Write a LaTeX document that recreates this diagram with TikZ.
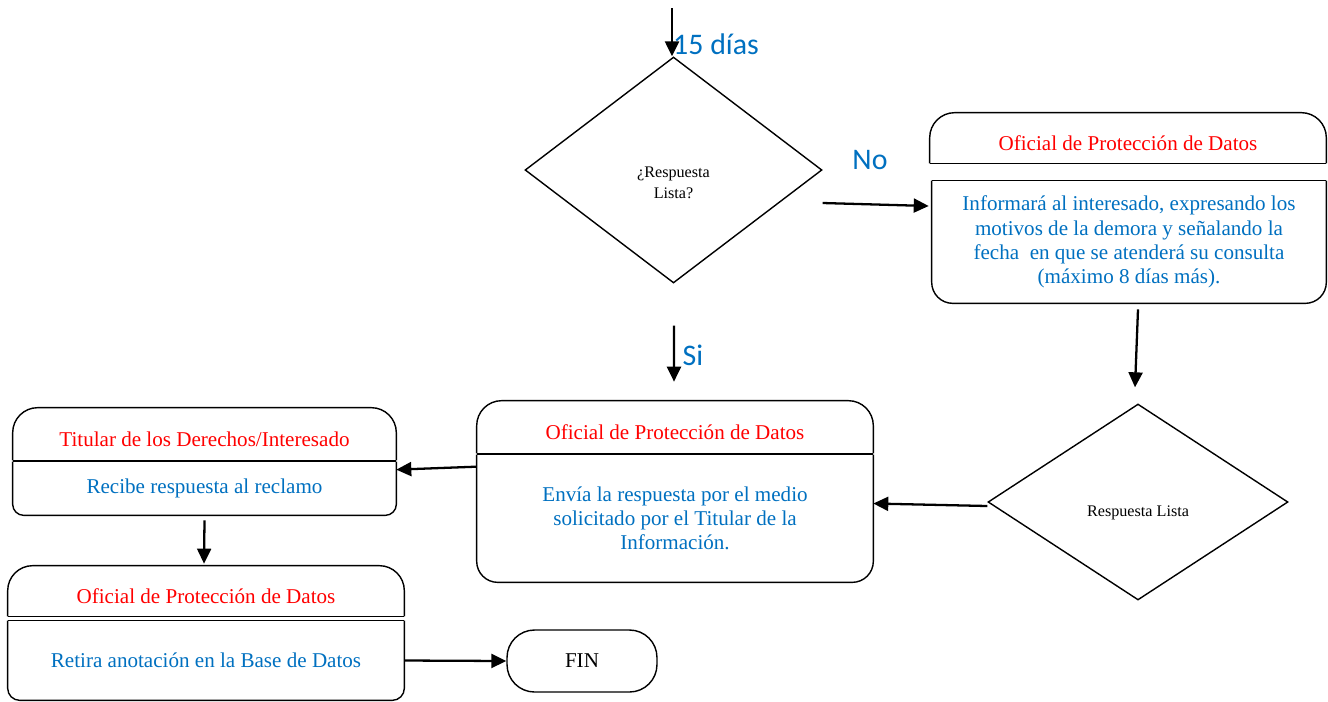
\documentclass[tikz,border=0pt]{standalone}
\usepackage{fontspec}
\setmainfont{Liberation Serif}
\newfontfamily\calibfont{Carlito}
\usetikzlibrary{shapes.geometric,arrows.meta,calc}
\definecolor{titred}{RGB}{255,0,0}
\definecolor{txtblue}{RGB}{0,112,192}
\tikzset{
  hdr/.style={text=titred, font=\fontsize{12}{14}\selectfont, inner sep=0pt, text height=14pt},
  bdy/.style={text=txtblue, font=\fontsize{12}{13.8}\selectfont, align=center, inner sep=0pt},
  dec/.style={draw, thick, diamond, inner sep=0pt, align=center, text height=18pt, font=\fontsize{9.2}{12}\selectfont},
  arr/.style={line width=1.3pt, -{Triangle[length=0.3cm,width=0.28cm]}},
  lbl/.style={text=txtblue, font=\calibfont\fontsize{17}{20}\selectfont},
}
\begin{document}
\begin{tikzpicture}[x=0.02cm, y=-0.02cm]
\useasboundingbox (0,0) rectangle (1328,701);

% decisiones
\node[dec, minimum width=5.94cm, minimum height=4.52cm] (lista1) at (673.5,170)
  {\raisebox{-1pt}[0pt][0pt]{\begin{tabular}{@{}c@{}}¿Respuesta\\Lista?\end{tabular}}};
\node[dec, minimum width=6cm, minimum height=3.92cm] (lista2) at (1138,502) {Respuesta Lista};

% cajas: titulo + contenido
\node[hdr, minimum width=7.92cm, minimum height=1cm] (ofiA) at (1128,138) {Oficial de Protección de Datos};
\node[bdy, minimum width=7.88cm, minimum height=2.44cm] (infA) at (1129,242)
  {Informará al interesado, expresando los\\motivos de la demora y señalando la\\fecha\ \ en que se atenderá su consulta\\(máximo 8 días más).};

\node[hdr, minimum width=7.92cm, minimum height=1.04cm] (ofiM) at (675,427) {Oficial de Protección de Datos};
\node[bdy, minimum width=7.92cm, minimum height=2.54cm] (envM) at (675,518.5)
  {Envía la respuesta por el medio\\solicitado por el Titular de la\\Información.};

\node[hdr, minimum width=7.66cm, minimum height=1.04cm] (titT) at (204.5,434) {Titular de los Derechos/Interesado};
\node[bdy, minimum width=7.66cm, minimum height=1.06cm] (recT) at (204.5,488.5) {Recibe respuesta al reclamo};

\node[hdr, minimum width=7.92cm, minimum height=1cm] (ofiB) at (206,591) {Oficial de Protección de Datos};
\node[bdy, minimum width=7.92cm, minimum height=1.58cm] (retB) at (206,660.5) {Retira anotación en la Base de Datos};

\node[draw, thick, rounded corners=0.55cm, minimum width=3cm, minimum height=1.24cm, font=\fontsize{12}{14}\selectfont] (fin) at (582,661) {FIN};

% bordes
\foreach \n in {ofiA,ofiM,titT,ofiB} {
  \draw[thick, rounded corners=0.5cm] (\n.south east) -- (\n.north east) -- (\n.north west) -- (\n.south west);
  \draw[thick] (\n.south west) -- (\n.south east);
}
\foreach \n/\r in {infA/0.42cm, envM/0.42cm, recT/0.22cm, retB/0.24cm} {
  \draw[thick, rounded corners=\r] (\n.north west) -- (\n.south west) -- (\n.south east) -- (\n.north east);
  \draw[thick] (\n.north west) -- (\n.north east);
}

% flechas
\coordinate (inicio) at (672,8);
\draw[arr] (inicio) -- (inicio |- lista1.north);
\node[lbl, anchor=west] (dias) at (667,44) {15 días};

\draw[arr] ($(lista1.east)+(0,33)$) -- ($(infA.west)+(-3,-36)$);
\node[lbl] (no) at (870,160) {No};

\draw[arr] ($(infA.south)+(9,6)$) -- ($(lista2.north)+(-3,-16)$);

\draw[arr] ($(lista1.south)+(0.5,42)$) -- ($(ofiM.north)+(-1,-19)$);
\node[lbl] (si) at (693,355) {Si};

\draw[arr] ($(lista2.west)+(0,4)$) -- ($(envM.east)+(0,-15)$);
\draw[arr] ($(envM.north west)+(0,12)$) -- ($(recT.north east)+(0,8)$);
\draw[arr] ($(recT.south)+(0,5)$) -- ($(ofiB.north)+(-2,-2)$);
\draw[arr] (retB.east) -- (fin.west);

\end{tikzpicture}
\end{document}
